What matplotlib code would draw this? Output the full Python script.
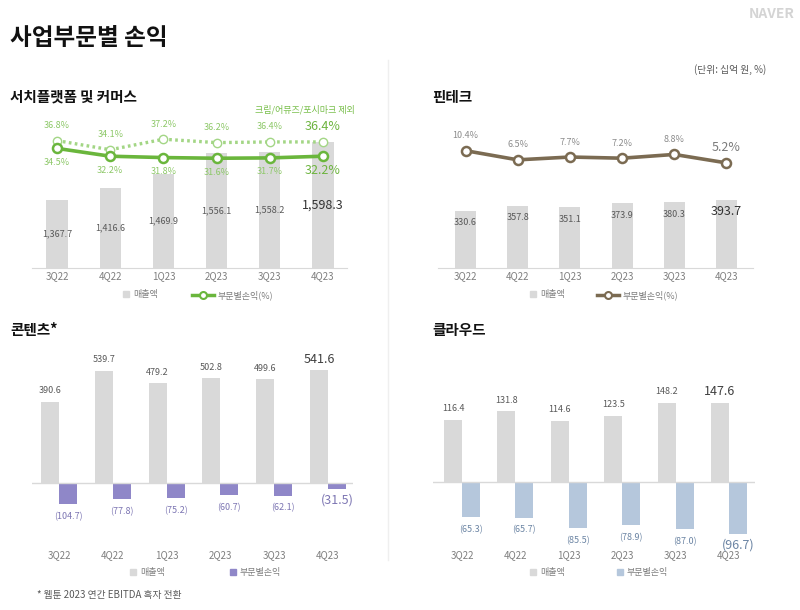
import matplotlib
matplotlib.use('Agg')
import matplotlib.pyplot as plt
import numpy as np
from matplotlib.lines import Line2D

plt.rcParams['font.family'] = ['Noto Sans CJK KR', 'DejaVu Sans']

W, H = 800, 610

quarters = ['3Q22', '4Q22', '1Q23', '2Q23', '3Q23', '4Q23']

search_rev = [1367.7, 1416.6, 1469.9, 1556.1, 1558.2, 1598.3]
search_margin = [34.5, 32.2, 31.8, 31.6, 31.7, 32.2]
search_margin_ex = [36.8, 34.1, 37.2, 36.2, 36.4, 36.4]

fintech_rev = [330.6, 357.8, 351.1, 373.9, 380.3, 393.7]
fintech_margin = [10.4, 6.5, 7.7, 7.2, 8.8, 5.2]

content_rev = [390.6, 539.7, 479.2, 502.8, 499.6, 541.6]
content_op = [-104.7, -77.8, -75.2, -60.7, -62.1, -31.5]

cloud_rev = [116.4, 131.8, 114.6, 123.5, 148.2, 147.6]
cloud_op = [-65.3, -65.7, -85.5, -78.9, -87.0, -96.7]

GRAY = '#d9d9d9'
AXIS = '#d9d9d9'
TICK = '#7f7f7f'
TXT = '#595959'
GREEN = '#6ab63c'
LGREEN = '#a3d685'
BROWN = '#7b6b52'
PURPLE = '#8f87c8'
BLUE = '#b5c7dc'

x = np.arange(6)


def box(l, t, r, b):
    return [l / W, 1 - b / H, (r - l) / W, (b - t) / H]


def pt(px):
    return px * 72 / 100


def money(v):
    s = f'{abs(v):,.1f}'
    return f'({s})' if v < 0 else s


fig = plt.figure(figsize=(8, 6.1), dpi=100)
fig.patch.set_facecolor('white')


def base_axes(rect, xlim, ylim, spine=True, pad=2.5):
    ax = fig.add_axes(rect)
    ax.set_xlim(*xlim)
    ax.set_ylim(*ylim)
    for s in ['top', 'right', 'left']:
        ax.spines[s].set_visible(False)
    ax.spines['bottom'].set_visible(spine)
    ax.spines['bottom'].set_color(AXIS)
    ax.set_yticks([])
    ax.set_xticks(x)
    ax.set_xticklabels(quarters)
    ax.tick_params(axis='x', length=0, pad=pad, labelsize=7, labelcolor=TICK)
    ax.patch.set_alpha(0)
    return ax


def twin(ax, ylim):
    t = ax.twinx()
    t.set_ylim(*ylim)
    for s in t.spines.values():
        s.set_visible(False)
    t.set_yticks([])
    return t


def legend_item(handle, label, px, py, hl):
    fig.legend([handle], [label], loc='center left',
               bbox_to_anchor=(px / W, 1 - py / H), frameon=False,
               fontsize=6.5, handlelength=hl, handletextpad=0.4,
               borderpad=0, borderaxespad=0, labelcolor=TICK)


sq = Line2D([], [], marker='s', ls='none', color=GRAY, ms=5)

# ---- search & commerce
ax = base_axes(box(32, 110, 347, 268), (-0.47, 5.45), (1100, 1725))
ax.bar(x, search_rev, width=0.4, color=GRAY)
for i, v in enumerate(search_rev):
    last = i == 5
    ax.text(i, (v + 1100) / 2, money(v), ha='center', va='center',
            fontsize=9 if last else 6.5, color='#333333' if last else TXT)
tl = twin(ax, (-0.7, 45.8))
tl.plot(x, search_margin_ex, ls=(0, (0.8, 1.0)), lw=2.4, color=LGREEN,
        marker='o', ms=6, mfc='white', mec=LGREEN, mew=1)
tl.plot(x, search_margin, lw=2.6, color=GREEN, marker='o', ms=6.5,
        mfc='white', mec=GREEN, mew=1.8)
for i, (a, b) in enumerate(zip(search_margin_ex, search_margin)):
    last = i == 5
    fs = 9 if last else 6.5
    c = '#6db43f' if last else '#8dc868'
    tl.annotate(f'{a}%', (i, a), xytext=(0, pt(15)), textcoords='offset points',
                ha='center', va='center', fontsize=fs, color=c)
    tl.annotate(f'{b}%', (i, b), xytext=(0, -pt(14)), textcoords='offset points',
                ha='center', va='center', fontsize=fs, color=c)
fig.text(355 / W, 1 - 110 / H, '크림/어뮤즈/포시마크 제외', ha='right', va='center',
         fontsize=6.5, color='#78bf4a', style='italic')
legend_item(sq, '매출액', 123, 295, 0.7)
legend_item(Line2D([], [], color=GREEN, lw=2.5, marker='o', ms=5, mfc='white',
                   mec=GREEN, mew=1.5), '부문별손익(%)', 192, 295, 2.4)

# ---- fintech
ax = base_axes(box(438, 110, 753, 268), (-0.527, 5.508), (0, 910.7))
ax.bar(x, fintech_rev, width=0.4, color=GRAY)
for i, v in enumerate(fintech_rev):
    last = i == 5
    ax.annotate(money(v), (i, v), xytext=(0, -pt(12)), textcoords='offset points',
                ha='center', va='center', fontsize=9 if last else 6.5,
                color='#333333' if last else TXT)
tl = twin(ax, (-39.5, 27.7))
tl.plot(x, fintech_margin, lw=2.6, color=BROWN, marker='o', ms=6.5,
        mfc='white', mec=BROWN, mew=1.8)
for i, v in enumerate(fintech_margin):
    last = i == 5
    tl.annotate(f'{v}%', (i, v), xytext=(0, pt(15)), textcoords='offset points',
                ha='center', va='center', fontsize=9 if last else 6.5,
                color='#7a7a7a' if last else '#8c8c8c')
legend_item(sq, '매출액', 530, 295, 0.7)
legend_item(Line2D([], [], color=BROWN, lw=2.5, marker='o', ms=5, mfc='white',
                   mec=BROWN, mew=1.5), '부문별손익(%)', 597, 295, 2.4)


# ---- bottom panels
def pair_panel(rect, xlim, ylim, rev, op, color, lcolor, w):
    ax = base_axes(rect, xlim, ylim, spine=False, pad=4)
    ax.axhline(0, color=AXIS, lw=1)
    ax.bar(x - w / 2, rev, width=w, color=GRAY)
    ax.bar(x + w / 2, op, width=w, color=color)
    for i, (r, o) in enumerate(zip(rev, op)):
        last = i == 5
        fs = 9 if last else 6.5
        ax.annotate(money(r), (i - w / 2, r), xytext=(0, pt(11)),
                    textcoords='offset points', ha='center', va='center',
                    fontsize=fs, color='#404040' if last else TXT)
        ax.annotate(money(o), (i + w / 2, o), xytext=(0, -pt(10.5 if last else 12.5)),
                    textcoords='offset points', ha='center', va='center',
                    fontsize=fs, color=lcolor)
    return ax


pair_panel(box(32, 340, 353, 545), (-0.502, 5.465), (-300.2, 687.7),
           content_rev, content_op, PURPLE, '#7d76b3', 0.335)
legend_item(sq, '매출액', 130, 573, 0.7)
legend_item(Line2D([], [], marker='s', ls='none', color=PURPLE, ms=5),
            '부문별손익', 230, 573, 0.7)

pair_panel(box(433, 340, 755, 545), (-0.543, 5.487), (-116.5, 264.5),
           cloud_rev, cloud_op, BLUE, '#6c85a4', 0.337)
legend_item(sq, '매출액', 530, 573, 0.7)
legend_item(Line2D([], [], marker='s', ls='none', color=BLUE, ms=5),
            '부문별손익', 617, 573, 0.7)

# ---- texts
fig.text(10 / W, 1 - 38 / H, '사업부문별 손익', fontsize=17, fontweight='bold',
         va='center', color='#111111')
fig.text(795 / W, 1 - 14 / H, 'NAVER', ha='right', va='center', fontsize=10,
         fontweight='bold', color='#d4d4d4')
fig.text(766 / W, 1 - 70 / H, '(단위: 십억 원, %)', ha='right', va='center',
         fontsize=7, color=TXT)
for tx, ty, t in [(10, 97, '서치플랫폼 및 커머스'), (432, 97, '핀테크'),
                  (10, 330, '콘텐츠*'), (432, 330, '클라우드')]:
    fig.text(tx / W, 1 - ty / H, t, fontsize=10.5, fontweight='bold',
             va='center', color='#111111')
fig.text(37 / W, 1 - 595 / H, '* 웹툰 2023 연간 EBITDA 흑자 전환', fontsize=7,
         va='center', color=TXT)
fig.add_artist(Line2D([388 / W, 388 / W], [1 - 60 / H, 1 - 560 / H],
                      color='#efefef', lw=1))

fig.savefig('out.png', dpi=100)
